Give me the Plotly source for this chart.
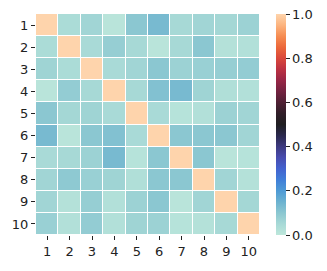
import plotly.graph_objects as go

labels = [str(i) for i in range(1, 11)]

row1 = [1.00, 0.040, 0.060, 0.010, 0.100, 0.130, 0.050, 0.060, 0.055, 0.070]
row2 = [0.040, 1.00, 0.045, 0.080, 0.050, 0.010, 0.050, 0.100, 0.020, 0.025]
row3 = [0.065, 0.040, 1.00, 0.045, 0.060, 0.100, 0.070, 0.075, 0.080, 0.085]
row4 = [0.010, 0.085, 0.050, 1.00, 0.050, 0.115, 0.130, 0.065, 0.030, 0.025]
row5 = [0.100, 0.055, 0.065, 0.045, 1.00, 0.045, 0.015, 0.025, 0.070, 0.060]
row6 = [0.130, 0.010, 0.100, 0.115, 0.045, 1.00, 0.100, 0.100, 0.100, 0.060]
row7 = [0.045, 0.050, 0.070, 0.130, 0.015, 0.100, 1.00, 0.100, 0.010, 0.015]
row8 = [0.060, 0.095, 0.075, 0.065, 0.030, 0.100, 0.100, 1.00, 0.060, 0.020]
row9 = [0.060, 0.020, 0.080, 0.025, 0.070, 0.100, 0.010, 0.060, 1.00, 0.055]
row10 = [0.075, 0.025, 0.085, 0.025, 0.065, 0.070, 0.015, 0.020, 0.050, 1.00]

z = [row1, row2, row3, row4, row5, row6, row7, row8, row9, row10]

icefire = [
    [0.00, "rgb(189,231,219)"],
    [0.05, "rgb(167,217,214)"],
    [0.10, "rgb(139,199,209)"],
    [0.15, "rgb(108,178,208)"],
    [0.20, "rgb(78,154,213)"],
    [0.25, "rgb(64,126,216)"],
    [0.30, "rgb(67,98,207)"],
    [0.35, "rgb(72,76,175)"],
    [0.40, "rgb(61,58,128)"],
    [0.45, "rgb(42,40,77)"],
    [0.50, "rgb(31,30,33)"],
    [0.55, "rgb(48,30,40)"],
    [0.60, "rgb(79,32,52)"],
    [0.65, "rgb(115,34,64)"],
    [0.70, "rgb(152,38,70)"],
    [0.75, "rgb(188,49,66)"],
    [0.80, "rgb(218,72,59)"],
    [0.85, "rgb(236,104,58)"],
    [0.90, "rgb(246,141,82)"],
    [0.95, "rgb(252,180,127)"],
    [1.00, "rgb(254,212,172)"],
]

fig = go.Figure(go.Heatmap(
    z=z, x=labels, y=labels,
    zmin=0, zmax=1,
    colorscale=icefire,
    xgap=1, ygap=1,
    colorbar=dict(
        thickness=10, len=1, lenmode="fraction", y=0.5, yanchor="middle",
        x=1.071, xanchor="left", xpad=0, ypad=0,
        outlinewidth=0,
        tickvals=[0, 0.2, 0.4, 0.6, 0.8, 1.0],
        ticktext=["0.0", "0.2", "0.4", "0.6", "0.8", "1.0"],
        ticks="outside", ticklen=4, tickcolor="#222",
        tickfont=dict(family="DejaVu Sans", size=13, color="#222"),
    ),
))

fig.update_layout(
    width=327, height=271,
    margin=dict(l=36, r=67, t=14, b=33),
    paper_bgcolor="white", plot_bgcolor="white",
    font=dict(family="DejaVu Sans", size=13, color="#222"),
)
fig.update_xaxes(type="category", showgrid=False, zeroline=False, ticks="outside",
                 ticklen=4, tickcolor="#222", tickfont=dict(size=13), showline=False)
fig.update_yaxes(type="category", autorange="reversed", showgrid=False, zeroline=False,
                 ticks="outside", ticklen=4, tickcolor="#222", tickfont=dict(size=13),
                 showline=False)

fig.write_html("out.html", config={"displayModeBar": False},
               post_script="document.body.style.margin='0px';document.body.style.overflow='hidden';")
